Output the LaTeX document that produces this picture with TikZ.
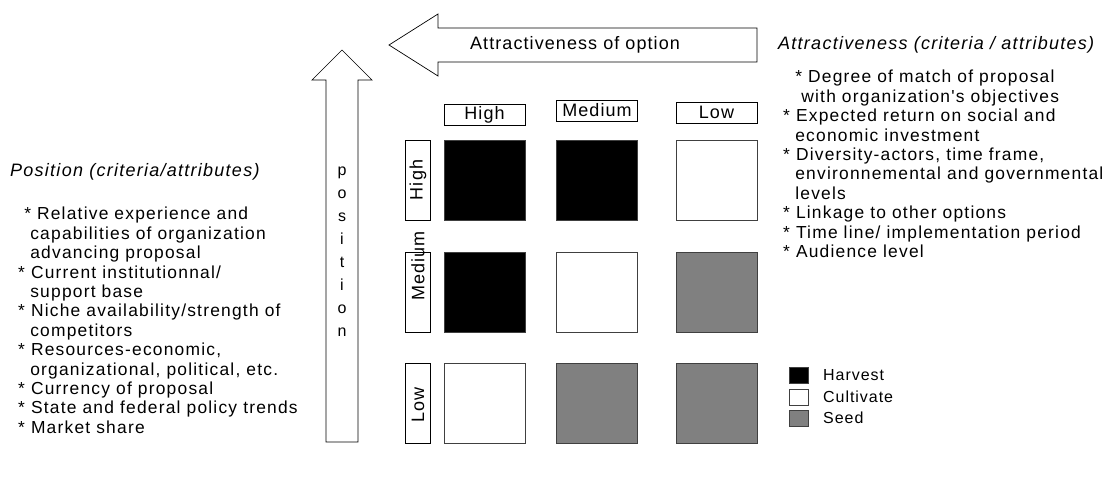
\documentclass[tikz,border=0pt]{standalone}
\usepackage{fontspec}
\setmainfont{Liberation Sans}[LetterSpace=6]
\newfontfamily\widefont{Liberation Sans}[LetterSpace=7]
\begin{document}
\begin{tikzpicture}[x=1pt,y=-1pt,
  cell/.style={draw=black!75,line width=0.8pt,minimum width=81pt,minimum height=80pt,inner sep=0pt},
  hv/.style={cell,fill=black},
  md/.style={cell,fill=black!50},
  lo/.style={cell,fill=white},
  hdr/.style={draw,line width=0.6pt,minimum width=81pt,minimum height=21pt,inner sep=0pt,font=\fontsize{18}{18}\selectfont},
  rlab/.style={draw,line width=0.6pt,minimum width=25pt,minimum height=80pt,inner sep=0pt},
  rtxt/.style={inner sep=0pt,rotate=90,font=\fontsize{18}{18}\selectfont},
  leg/.style={draw=black!75,line width=0.8pt,minimum width=19pt,minimum height=16pt,inner sep=0pt},
  legt/.style={anchor=west,inner sep=0pt,font=\fontsize{16}{16}\selectfont},
  lst/.style={anchor=north west,inner sep=0pt,align=left,font=\fontsize{17.4}{19.4}\widefont},
  ttl/.style={anchor=west,inner sep=0pt,font=\fontsize{18}{18}\widefont\itshape},
  arr/.style={draw,line width=0.7pt,fill=white}
]
\useasboundingbox (0,0) rectangle (1109,487);
% left-pointing arrow
\draw[arr] (389,45) -- (438,14) -- (438,28) -- (757,28) -- (757,62) -- (438,62) -- (438,76) -- cycle;
\node[inner sep=0pt,font=\fontsize{18}{18}\selectfont] (attr) at (575,45) {Attractiveness of option};
% up arrow
\draw[arr] (342,50) -- (372,80) -- (358,80) -- (358,442) -- (326,442) -- (326,80) -- (312,80) -- cycle;
\node[inner sep=0pt,align=center,font=\fontsize{16}{23}\selectfont] (pos) at (342,252) {p\\o\\s\\i\\t\\i\\o\\n};
% column headers
\node[hdr] (cH) at (484.5,114.5) {High};
\node[hdr] (cM) at (597,110.5) {Medium};
\node[hdr] (cL) at (716.5,112.5) {Low};
% row labels
\node[rlab] (rH) at (417.5,180) {};
\node[rlab] (rM) at (417.5,292) {};
\node[rlab] (rL) at (417.5,403.5) {};
\node[rtxt] (tH) at (418,180) {High};
\node[rtxt] (tM) at (418,266) {Medium};
\node[rtxt] (tL) at (418,405) {Low};
% grid
\node[hv] (c11) at (484.5,180) {};
\node[hv] (c12) at (597,180) {};
\node[lo] (c13) at (716.5,180) {};
\node[hv] (c21) at (484.5,292) {};
\node[lo] (c22) at (597,292) {};
\node[md] (c23) at (716.5,292) {};
\node[lo] (c31) at (484.5,403.5) {};
\node[md] (c32) at (597,403.5) {};
\node[md] (c33) at (716.5,403.5) {};
% legend
\node[leg,fill=black] (lg1) at (798.5,375) {};
\node[leg,fill=white] (lg2) at (798.5,397) {};
\node[leg,fill=black!50] (lg3) at (798.5,418) {};
\node[legt] (lt1) at (823,375) {Harvest};
\node[legt] (lt2) at (823,397) {Cultivate};
\node[legt] (lt3) at (823,418) {Seed};
% right text
\node[ttl] (rt) at (778,45) {Attractiveness (criteria / attributes)};
\node[lst] (rlist) at (783,70) {\ \ * Degree of match of proposal\\
\ \ \ with organization's objectives\\
* Expected return on social and\\
\ \ economic investment\\
* Diversity-actors, time frame,\\
\ \ environnemental and governmental\\
\ \ levels\\
* Linkage to other options\\
* Time line/ implementation period\\
* Audience level};
% left text
\node[ttl] (lt) at (10,172) {Position (criteria/attributes)};
\node[lst] (llist) at (18,207) {\ * Relative experience and\\
\ \ capabilities of organization\\
\ \ advancing proposal\\
* Current institutionnal/\\
\ \ support base\\
* Niche availability/strength of\\
\ \ competitors\\
* Resources-economic,\\
\ \ organizational, political, etc.\\
* Currency of proposal\\
* State and federal policy trends\\
* Market share};
\end{tikzpicture}
\end{document}
